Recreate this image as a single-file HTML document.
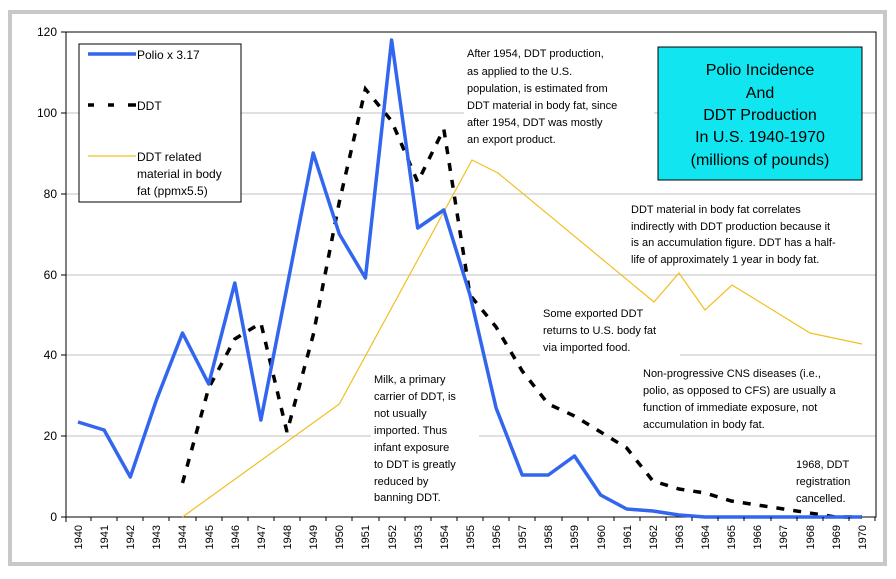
<!DOCTYPE html>
<html><head><meta charset="utf-8"><style>
html,body{margin:0;padding:0;background:#fff;}
svg{display:block;font-family:"Liberation Sans",Arial,sans-serif;}
</style></head><body>
<svg width="896" height="579" viewBox="0 0 896 579" xmlns="http://www.w3.org/2000/svg">
<rect x="0" y="0" width="896" height="579" fill="#fff"/>
<rect x="10" y="12" width="875" height="552" fill="#fff" stroke="#c8c8c8" stroke-width="4"/>
<g stroke="#c0c0c0" stroke-width="1">
<line x1="66" y1="32" x2="876" y2="32"/>
<line x1="66" y1="113" x2="876" y2="113"/>
<line x1="66" y1="194" x2="876" y2="194"/>
<line x1="66" y1="275" x2="876" y2="275"/>
<line x1="66" y1="355" x2="876" y2="355"/>
<line x1="66" y1="436" x2="876" y2="436"/>
</g>
<rect x="66" y="32" width="810" height="485" fill="none" stroke="#000" stroke-width="1"/>
<g font-size="12" text-anchor="end" fill="#000">
<text x="57" y="36">120</text><text x="57" y="117">100</text><text x="57" y="198">80</text>
<text x="57" y="279">60</text><text x="57" y="359">40</text><text x="57" y="440">20</text><text x="57" y="521">0</text>
</g>
<g stroke="#000"><line x1="61" y1="32" x2="66" y2="32"/><line x1="61" y1="113" x2="66" y2="113"/><line x1="61" y1="194" x2="66" y2="194"/><line x1="61" y1="275" x2="66" y2="275"/><line x1="61" y1="355" x2="66" y2="355"/><line x1="61" y1="436" x2="66" y2="436"/><line x1="61" y1="517" x2="66" y2="517"/></g>
<rect x="464" y="42" width="190" height="108" fill="#fff"/>
<rect x="628" y="202" width="234" height="66" fill="#fff"/>
<rect x="540" y="300" width="140" height="58" fill="#fff"/>
<rect x="640" y="362" width="220" height="70" fill="#fff"/>
<rect x="371" y="366" width="108" height="140" fill="#fff"/>
<polyline fill="none" stroke="#f0c020" stroke-width="1.2" points="182.5,517 339.3,404 472,160 498,173 654,302 679,273 705,310 732,285 810,333 862,344"/>
<polyline fill="none" stroke="#000" stroke-width="3.5" stroke-dasharray="8,9" points="182.5,483 208.7,388 234.8,339 260.9,323 287,432 313.2,335 339.3,202 365.4,89 391.6,121 417.7,182 443.8,129 470,295 496.1,327 522.2,371 548.3,404 574.5,416 600.6,432 626.7,448 652.9,481 679,489 705.1,493 731.3,501 757.4,505 783.5,509 809.6,513 835.8,517 861.9,517"/>
<polyline fill="none" stroke="#3366ee" stroke-width="3.5" stroke-linejoin="round" points="78,422 104.1,430 130.3,477 156.4,400 182.5,333 208.7,384 234.8,283 260.9,420 287,287 313.2,153 339.3,234 365.4,278 391.6,40 417.7,228 443.8,210 470,295 496.1,408 522.2,475 548.3,475 574.5,456 600.6,495 626.7,509 652.9,511 679,515 705.1,517 861.9,517"/>
<g stroke="#000"><line x1="66" y1="517" x2="66" y2="522"/></g>
<g font-size="11" fill="#000" text-anchor="end">
<text transform="translate(82,525) rotate(-90)">1940</text>
<text transform="translate(108,525) rotate(-90)">1941</text>
<text transform="translate(134,525) rotate(-90)">1942</text>
<text transform="translate(160,525) rotate(-90)">1943</text>
<text transform="translate(186,525) rotate(-90)">1944</text>
<text transform="translate(213,525) rotate(-90)">1945</text>
<text transform="translate(239,525) rotate(-90)">1946</text>
<text transform="translate(265,525) rotate(-90)">1947</text>
<text transform="translate(291,525) rotate(-90)">1948</text>
<text transform="translate(317,525) rotate(-90)">1949</text>
<text transform="translate(343,525) rotate(-90)">1950</text>
<text transform="translate(369,525) rotate(-90)">1951</text>
<text transform="translate(396,525) rotate(-90)">1952</text>
<text transform="translate(422,525) rotate(-90)">1953</text>
<text transform="translate(448,525) rotate(-90)">1954</text>
<text transform="translate(474,525) rotate(-90)">1955</text>
<text transform="translate(500,525) rotate(-90)">1956</text>
<text transform="translate(526,525) rotate(-90)">1957</text>
<text transform="translate(552,525) rotate(-90)">1958</text>
<text transform="translate(578,525) rotate(-90)">1959</text>
<text transform="translate(605,525) rotate(-90)">1960</text>
<text transform="translate(631,525) rotate(-90)">1961</text>
<text transform="translate(657,525) rotate(-90)">1962</text>
<text transform="translate(683,525) rotate(-90)">1963</text>
<text transform="translate(709,525) rotate(-90)">1964</text>
<text transform="translate(735,525) rotate(-90)">1965</text>
<text transform="translate(761,525) rotate(-90)">1966</text>
<text transform="translate(787,525) rotate(-90)">1967</text>
<text transform="translate(814,525) rotate(-90)">1968</text>
<text transform="translate(840,525) rotate(-90)">1969</text>
<text transform="translate(866,525) rotate(-90)">1970</text>
</g>
<g stroke="#000" stroke-width="1">
<path d="M91,517v4M117,517v4M143,517v4M169,517v4M196,517v4M222,517v4M248,517v4M274,517v4M300,517v4M326,517v4M352,517v4M379,517v4M405,517v4M431,517v4M457,517v4M483,517v4M509,517v4M535,517v4M562,517v4M588,517v4M614,517v4M640,517v4M666,517v4M692,517v4M718,517v4M744,517v4M771,517v4M797,517v4M823,517v4M849,517v4M875,517v4"/>
</g>
<rect x="79" y="44" width="162" height="158" fill="#fff" stroke="#000" stroke-width="1"/>
<line x1="88" y1="54" x2="136" y2="54" stroke="#3366ee" stroke-width="3.5"/>
<text x="137" y="59" font-size="12">Polio x 3.17</text>
<path d="M88,105h6M108,105h6M128,105h8" stroke="#000" stroke-width="3.5"/>
<text x="137" y="110" font-size="12">DDT</text>
<line x1="88" y1="156" x2="136" y2="156" stroke="#f0c020" stroke-width="1.2"/>
<g font-size="12"><text x="137" y="161">DDT related</text><text x="137" y="178">material in body</text><text x="137" y="195">fat (ppmx5.5)</text></g>
<rect x="658" y="47" width="204" height="133" fill="#11e5ef" stroke="#000" stroke-width="1"/>
<g font-size="16" text-anchor="middle" fill="#000">
<text x="760" y="75">Polio Incidence</text><text x="760" y="98">And</text><text x="760" y="120">DDT Production</text><text x="760" y="142">In U.S. 1940-1970</text><text x="760" y="165">(millions of pounds)</text>
</g>
<g font-size="11" fill="#000">
<text x="467" y="57">After 1954, DDT production,</text>
<text x="467" y="75">as applied to the U.S.</text>
<text x="467" y="92">population, is estimated from</text>
<text x="467" y="109">DDT material in body fat, since</text>
<text x="467" y="126">after 1954, DDT was mostly</text>
<text x="467" y="143">an export product.</text>
<text x="631" y="213">DDT material in body fat correlates</text>
<text x="631" y="230">indirectly with DDT production because it</text>
<text x="631" y="246">is an accumulation figure. DDT has a half-</text>
<text x="631" y="263">life of approximately 1 year in body fat.</text>
<text x="543" y="317">Some exported DDT</text>
<text x="543" y="334">returns to U.S. body fat</text>
<text x="543" y="351">via imported food.</text>
<text x="643" y="377">Non-progressive CNS diseases (i.e.,</text>
<text x="643" y="394">polio, as opposed to CFS) are usually a</text>
<text x="643" y="411">function of immediate exposure, not</text>
<text x="643" y="428">accumulation in body fat.</text>
<text x="374" y="383">Milk, a primary</text>
<text x="374" y="400">carrier of DDT, is</text>
<text x="374" y="417">not usually</text>
<text x="374" y="434">imported. Thus</text>
<text x="374" y="451">infant exposure</text>
<text x="374" y="468">to DDT is greatly</text>
<text x="374" y="485">reduced by</text>
<text x="374" y="501">banning DDT.</text>
<text x="796" y="468">1968, DDT</text>
<text x="796" y="485">registration</text>
<text x="796" y="502">cancelled.</text>
</g>
</svg>
</body></html>
